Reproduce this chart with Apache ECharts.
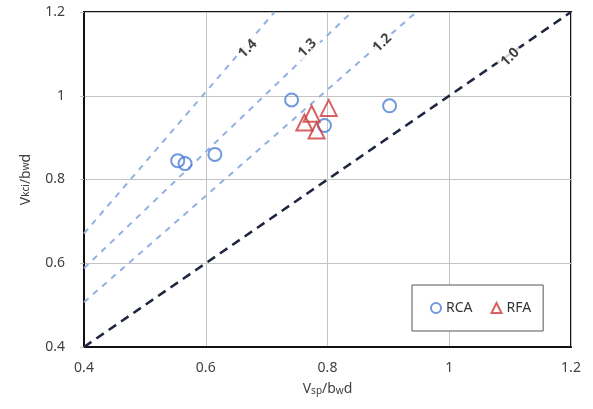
<!DOCTYPE html>
<html>
<head>
<meta charset="utf-8">
<script src="https://cdn.jsdelivr.net/npm/echarts@6/dist/echarts.min.js"></script>
<style>html,body{margin:0;padding:0;background:#fff}#c{width:593px;height:409px}</style>
</head>
<body>
<div id="c"></div>
<script>
// RCA data (Vsp/bwd, Vkci/bwd)
const rcaX = [0.554, 0.566, 0.615, 0.741, 0.795, 0.902];
const rcaY = [0.845, 0.838, 0.860, 0.990, 0.929, 0.976];
// RFA data
const rfaX = [0.774, 0.762, 0.782, 0.802];
const rfaY = [0.957, 0.936, 0.917, 0.971];
// reference lines: [x0, y0, x1, y1]
const refNames = ['1.4', '1.3', '1.2', '1.0'];
const refX0 = [0.4, 0.4, 0.4, 0.4];
const refY0 = [0.671, 0.588, 0.507, 0.4];
const refX1 = [0.713, 0.84, 0.946, 1.2];
const refY1 = [1.2, 1.2, 1.2, 1.2];
// label positions for reference lines
const refLabelX = [0.669, 0.767, 0.890, 1.100];
const refLabelY = [1.112, 1.114, 1.126, 1.092];
const axisTicks = [0.4, 0.6, 0.8, 1.0, 1.2];

const FONT = 'Noto Sans';
const chart = echarts.init(document.getElementById('c'));

const refSeries = refNames.map((n, i) => ({
  type: 'line',
  name: 'ref' + n,
  data: [[refX0[i], refY0[i]], [refX1[i], refY1[i]]],
  showSymbol: false,
  symbol: 'none',
  silent: true,
  z: 1,
  lineStyle: n === '1.0'
    ? { color: '#1f2640', width: 2.5, type: [9, 6] }
    : { color: '#92b0e0', width: 2, type: [6, 6] }
}));

const fmt = v => (Math.abs(v - 1) < 1e-9 ? '1' : v.toFixed(1));

chart.setOption({
  animation: false,
  grid: { left: 84, right: 22, top: 12, bottom: 62, show: true, borderColor: '#111', borderWidth: 2, containLabel: false },
  legend: {
    data: ['RCA', 'RFA'],
    left: 412, top: 285,
    orient: 'horizontal',
    padding: [16, 12, 16, 18],
    itemWidth: 10, itemHeight: 10, itemGap: 18,
    borderColor: '#555', borderWidth: 1,
    backgroundColor: '#fff',
    textStyle: { fontFamily: FONT, fontSize: 14, color: '#333' }
  },
  xAxis: {
    type: 'value', min: 0.4, max: 1.2, interval: 0.2,
    name: '{a|V}{s|sp}{a|/b}{s|w}{a|d}', nameLocation: 'middle', nameGap: 35,
    nameTextStyle: { rich: { a: { fontFamily: FONT, fontSize: 14, color: '#404040' }, s: { fontFamily: FONT, fontSize: 10, color: '#404040', verticalAlign: 'bottom', padding: [4, 0, 0, 0] } } },
    axisLine: { show: true, lineStyle: { color: '#111', width: 2 } },
    axisTick: { show: false },
    splitLine: { show: true, lineStyle: { color: '#c4c4c4', width: 1 } },
    axisLabel: { fontFamily: FONT, fontSize: 14, color: '#404040', margin: 14, formatter: fmt }
  },
  yAxis: {
    type: 'value', min: 0.4, max: 1.2, interval: 0.2,
    name: '{a|V}{s|kci}{a|/b}{s|w}{a|d}', nameLocation: 'middle', nameGap: 51,
    nameTextStyle: { rich: { a: { fontFamily: FONT, fontSize: 14, color: '#404040' }, s: { fontFamily: FONT, fontSize: 10, color: '#404040' } } },
    axisLine: { show: true, lineStyle: { color: '#111', width: 2 } },
    axisTick: { show: true, length: 4, lineStyle: { color: '#c4c4c4' } },
    splitLine: { show: true, lineStyle: { color: '#c4c4c4', width: 1 } },
    axisLabel: { fontFamily: FONT, fontSize: 14, color: '#404040', margin: 19, formatter: fmt }
  },
  series: refSeries.concat([
    {
      type: 'scatter', name: 'labels', silent: true, z: 3,
      symbolSize: 0,
      data: refNames.map((n, i) => ({ value: [refLabelX[i], refLabelY[i]], name: n })),
      label: { show: true, position: 'inside', formatter: p => p.name, rotate: 45, fontFamily: FONT, fontSize: 14, fontWeight: 'bold', color: '#111', backgroundColor: '#fff', padding: [1, 3] }
    },
    {
      type: 'scatter', name: 'RCA', z: 4,
      symbol: 'circle', symbolSize: 13,
      itemStyle: { color: 'rgba(255,255,255,0)', borderColor: '#4a7fd6', borderWidth: 2 },
      data: rcaX.map((x, i) => [x, rcaY[i]])
    },
    {
      type: 'scatter', name: 'RFA', z: 4,
      symbol: 'triangle', symbolSize: 16,
      itemStyle: { color: 'rgba(255,255,255,0)', borderColor: '#cc3b3b', borderWidth: 2 },
      data: rfaX.map((x, i) => [x, rfaY[i]])
    }
  ])
});
</script>
</body>
</html>
